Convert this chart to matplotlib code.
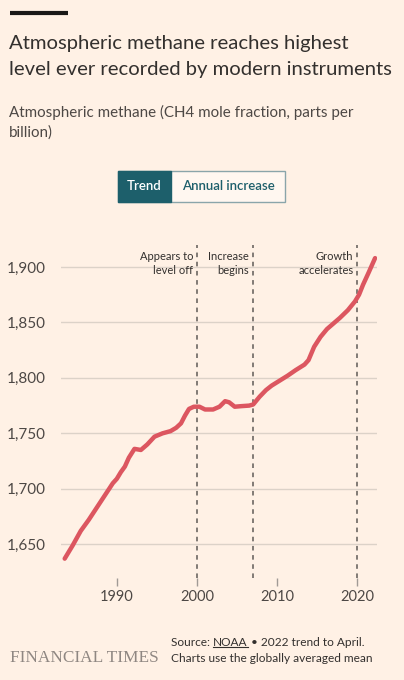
import matplotlib
matplotlib.use("Agg")
import matplotlib.pyplot as plt
from matplotlib.patches import Rectangle
from matplotlib.lines import Line2D

# ---- data ----
years = [1983.5, 1984.5, 1985.5, 1986.5, 1987.5, 1988.5, 1989.5, 1990.0, 1990.5, 1991.0,
         1991.5, 1992.2, 1993.0, 1993.8, 1994.7, 1995.7, 1996.7, 1997.4, 1998.0, 1998.5,
         1999.0, 1999.6, 2000.3, 2001.0, 2002.0, 2002.8, 2003.5, 2004.0, 2004.7, 2005.5,
         2006.5, 2007.0, 2007.8, 2008.6, 2009.3, 2010.3, 2011.3, 2012.3, 2013.4, 2013.9,
         2014.6, 2015.4, 2016.2, 2017.0, 2017.8, 2018.8, 2019.7, 2020.2, 2020.7, 2021.4, 2022.2]
methane = [1637, 1649, 1662, 1672, 1683, 1694, 1705, 1709, 1715, 1720,
           1728, 1736, 1735, 1740, 1747, 1750, 1752, 1755, 1759, 1766,
           1772, 1774, 1774, 1771.5, 1771.5, 1774, 1779, 1778, 1774, 1774.5,
           1775, 1776, 1783, 1789, 1793, 1797.5, 1802, 1807, 1812, 1816,
           1828, 1837, 1844, 1849, 1854, 1861, 1869, 1875, 1884, 1895, 1908]
y_ticks = [1650, 1700, 1750, 1800, 1850, 1900]
x_ticks = [1990, 2000, 2010, 2020]
event_years = [2000, 2007, 2020]
event_labels = ["Appears to\nlevel off", "Increase\nbegins", "Growth\naccelerates"]

BG = "#FFF1E5"
TXT = "#33302E"
SUB = "#4d4845"
GRID = "#DCD2C8"
RED = "#DC5660"
TEAL = "#1D5F6B"

W, H = 404, 680
fig = plt.figure(figsize=(W / 100, H / 100), dpi=100, facecolor=BG)
plt.rcParams['font.family'] = ['Lato', 'DejaVu Sans']

def fx(px):
    return px / W

def fy(py):
    return 1 - py / H

# top black bar
fig.add_artist(Line2D([fx(10), fx(68)], [fy(13), fy(13)], color="#1a1817", lw=3,
                      solid_capstyle="butt"))

fig.text(fx(9), fy(43), "Atmospheric methane reaches highest", fontsize=14.6, color=TXT,
         va="center", ha="left")
fig.text(fx(9), fy(69), "level ever recorded by modern instruments", fontsize=14.6, color=TXT,
         va="center", ha="left")
fig.text(fx(9), fy(112), "Atmospheric methane (CH4 mole fraction, parts per", fontsize=10.9,
         color=SUB, va="center", ha="left")
fig.text(fx(9), fy(133), "billion)", fontsize=10.9, color=SUB, va="center", ha="left")

# toggle buttons
bx0, bx1, bx2 = 118, 171, 285
by0, by1 = 171, 202
fig.add_artist(Rectangle((fx(bx0), fy(by1)), fx(bx2 - bx0), (by1 - by0) / H,
                         facecolor="#FFF7F0", edgecolor="#8aa5aa", lw=1.0))
fig.add_artist(Rectangle((fx(bx0), fy(by1)), fx(bx1 - bx0), (by1 - by0) / H,
                         facecolor=TEAL, edgecolor=TEAL, lw=1.0))
fig.text(fx((bx0 + bx1) / 2), fy((by0 + by1) / 2), "Trend", color="white", fontsize=9.5,
         ha="center", va="center", fontweight="semibold")
fig.text(fx((bx1 + bx2) / 2), fy((by0 + by1) / 2), "Annual increase", color=TEAL,
         fontsize=9.5, ha="center", va="center", fontweight="semibold")

# chart
ax_left, ax_right = 61, 377
ax_top, ax_bot = 244.8, 577.5
ax = fig.add_axes([fx(ax_left), fy(ax_bot), fx(ax_right - ax_left), (ax_bot - ax_top) / H])
ax.set_facecolor(BG)
ax.set_xlim(1983.04, 2022.44)
ax.set_ylim(1620, 1920)
for s in ax.spines.values():
    s.set_visible(False)

for v in y_ticks:
    ax.axhline(v, color=GRID, lw=1.0, zorder=1)

for yr in event_years:
    ax.axvline(yr, color="#5f5a56", lw=1.1, ls=(0, (3, 3)), zorder=2)

ax.plot(years, methane, color=RED, lw=3.2, solid_capstyle="round", solid_joinstyle="round",
        zorder=3)

for yr, lab in zip(event_years, event_labels):
    ax.text(yr - 0.5, 1914.5, lab, ha="right", va="top", fontsize=8, color=TXT,
            linespacing=1.4, zorder=4)

ax.set_yticks(y_ticks)
ax.set_yticklabels([f"{v:,}" for v in y_ticks])
ax.set_xticks(x_ticks)
ax.set_xticklabels([str(v) for v in x_ticks])
ax.tick_params(axis="y", length=0, pad=11, labelsize=11, labelcolor="#4d4845")
ax.tick_params(axis="x", length=6, width=1, color="#a09a95", pad=3, labelsize=10.5,
               labelcolor="#4d4845")

# footer
fig.text(fx(10), fy(658), "FINANCIAL TIMES", fontsize=12.4, color="#8f8782",
         family="Liberation Serif", va="center", ha="left")
fig.canvas.draw()
r = fig.canvas.get_renderer()
FS = 8.6
t1 = fig.text(fx(171), fy(643), "Source: ", fontsize=FS, color=TXT, va="center", ha="left")
bb1 = t1.get_window_extent(r)
t2 = fig.text(bb1.x1 / (W), fy(643), "NOAA", fontsize=FS, color=TXT, va="center", ha="left")
bb2 = t2.get_window_extent(r)
fig.add_artist(Line2D([bb2.x0 / W, bb2.x1 / W], [bb2.y0 / H + 0.002, bb2.y0 / H + 0.002],
                      color=TXT, lw=0.8))
fig.text(bb2.x1 / W, fy(643), " • 2022 trend to April.", fontsize=FS, color=TXT,
         va="center", ha="left")
fig.text(fx(171), fy(659), "Charts use the globally averaged mean", fontsize=FS, color=TXT,
         va="center", ha="left")

fig.savefig("out.png", dpi=100, facecolor=BG)
